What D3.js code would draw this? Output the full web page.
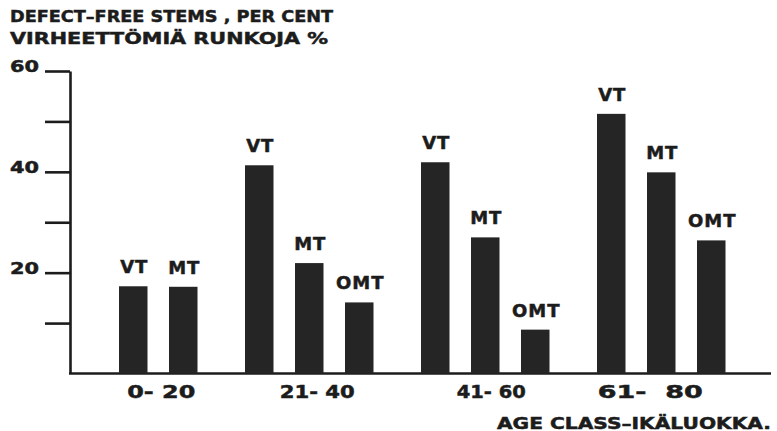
<!DOCTYPE html>
<html>
<head>
<meta charset="utf-8">
<script src="https://cdn.jsdelivr.net/npm/d3@7"></script>
<style>
  html, body { margin: 0; padding: 0; background: #fff; }
  svg { display: block; }
  text { font-family: "DejaVu Sans", sans-serif; font-weight: bold; fill: #1c1c1c; white-space: pre;
         stroke: #1c1c1c; stroke-width: 0.5px; }
</style>
</head>
<body>
<svg id="chart" width="777" height="431"></svg>
<script>
// ---- data ----
const ageClasses = ["0- 20", "21- 40", "41- 60", "61-  80"];
const siteTypes = ["VT", "MT", "OMT"];
const vtValues  = [17.3, 41.3, 41.9, 51.5];
const mtValues  = [17.2, 21.9, 27.0, 39.9];
const omtValues = [null, 14.1, 8.7, 26.4];
const yTickValues = [10, 20, 30, 40, 50, 60];
const yTickLabels = ["", "20", "", "40", "", "60"];
const titleLines = ["DEFECT\u2013FREE STEMS , PER CENT", "VIRHEETT\u00D6MI\u00C4 RUNKOJA %"];
const xAxisTitle = "AGE CLASS\u2013IK\u00C4LUOKKA.";

// ---- layout (styles, not data) ----
const labelWidths = [68, 75, 69, 105];
const labelNudge = [3, 8, 6, -11];
const seriesValues = [vtValues, mtValues, omtValues];

const svg = d3.select("#chart");

const y = d3.scaleLinear().domain([0, 60]).range([373.5, 71]);

// build flat list of bars
const bars = [];
let idx = 0;
ageClasses.forEach((g, gi) => {
  siteTypes.forEach((s, si) => {
    const v = seriesValues[si][gi];
    if (v != null) {
      bars.push({ group: g, gi, series: s, value: v, pos: idx + gi * 0.52 });
      idx++;
    }
  });
});

const x = d3.scaleLinear().domain([0, 1]).range([119, 169]);
const barW = 28.5;

// y axis
const yAxis = d3.axisLeft(y)
  .tickValues(yTickValues)
  .tickSize(25)
  .tickSizeOuter(0)
  .tickPadding(6)
  .tickFormat((d, i) => yTickLabels[i]);

const gy = svg.append("g").attr("transform", "translate(70,0)").call(yAxis);
gy.select(".domain").attr("stroke", "#1c1c1c").attr("stroke-width", 2.6);
gy.selectAll(".tick line").attr("stroke", "#1c1c1c").attr("stroke-width", 2.6);
gy.selectAll(".tick text")
  .attr("dy", "0.05em")
  .attr("font-size", 16.5)
  .attr("font-family", "DejaVu Sans")
  .attr("font-weight", "bold")
  .attr("fill", "#1c1c1c")
  .each(function () {
    if (this.textContent) {
      d3.select(this).attr("textLength", 29).attr("lengthAdjust", "spacingAndGlyphs");
    }
  });

// baseline
svg.append("line")
  .attr("x1", 69).attr("x2", 771)
  .attr("y1", y(0)).attr("y2", y(0))
  .attr("stroke", "#1c1c1c").attr("stroke-width", 2.6);

// bars
svg.append("g").selectAll("rect")
  .data(bars)
  .join("rect")
  .attr("x", d => x(d.pos))
  .attr("y", d => y(d.value))
  .attr("width", barW)
  .attr("height", d => y(0) - y(d.value))
  .attr("fill", "#252525");

// bar labels
svg.append("g").selectAll("text")
  .data(bars)
  .join("text")
  .attr("x", d => x(d.pos) + barW / 2 + 1)
  .attr("y", d => y(d.value) - 13)
  .attr("text-anchor", "middle")
  .attr("font-size", 18)
  .attr("letter-spacing", 1)
  .text(d => d.series);

// group labels
ageClasses.forEach((g, gi) => {
  const gb = bars.filter(b => b.gi === gi);
  const x0 = x(d3.min(gb, b => b.pos));
  const x1 = x(d3.max(gb, b => b.pos)) + barW;
  const cx = (x0 + x1) / 2 + labelNudge[gi];
  svg.append("text")
    .attr("x", cx - labelWidths[gi] / 2)
    .attr("y", 398)
    .attr("font-size", 18.5)
    .attr("textLength", labelWidths[gi])
    .attr("lengthAdjust", "spacingAndGlyphs")
    .text(g);
});

// x axis title
svg.append("text")
  .attr("x", 497).attr("y", 428.5)
  .attr("font-size", 16)
  .attr("textLength", 274)
  .attr("lengthAdjust", "spacingAndGlyphs")
  .text(xAxisTitle);

// y title
svg.append("text")
  .attr("x", 10).attr("y", 21.5)
  .attr("font-size", 16.5)
  .attr("textLength", 323)
  .attr("lengthAdjust", "spacingAndGlyphs")
  .text(titleLines[0]);
svg.append("text")
  .attr("x", 10).attr("y", 43.5)
  .attr("font-size", 16.5)
  .attr("textLength", 318)
  .attr("lengthAdjust", "spacingAndGlyphs")
  .text(titleLines[1]);
</script>
</body>
</html>
